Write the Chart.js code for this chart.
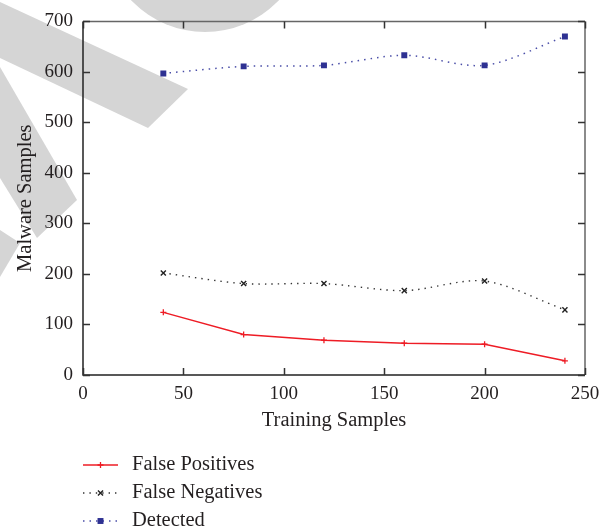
<!DOCTYPE html>
<html>
<head>
<meta charset="utf-8">
<script src="https://cdn.jsdelivr.net/npm/chart.js@4.4.1/dist/chart.umd.min.js"></script>
<style>
  html, body { margin: 0; padding: 0; background: #fff; }
  #wrap { width: 608px; height: 532px; position: relative; }
</style>
</head>
<body>
<div id="wrap"><canvas id="chart"></canvas></div>
<script>
// values
const trainingSamples = [40, 80, 120, 160, 200, 240];
const falsePositives = [124, 80, 69, 63, 61, 28];
const falseNegatives = [202, 181, 181, 167, 186, 129];
const detected = [597, 611, 613, 633, 613, 670];

const seriesNames = ['False Positives', 'False Negatives', 'Detected'];
const xTicks = [0, 50, 100, 150, 200, 250];
const yTicks = [0, 100, 200, 300, 400, 500, 600, 700];

const FONT = '"Liberation Serif", "DejaVu Serif", serif';
const TEXT = '#231f20';

const toPoints = values => values.map((v, i) => ({x: trainingSamples[i], y: v}));

// grey watermark behind the chart
const watermark = {
    id: 'watermark',
    beforeDraw(chart) {
        const ctx = chart.ctx;
        ctx.save();
        ctx.fillStyle = '#d5d5d5';
        const polys = [
            [[0, 2], [188, 89], [148, 128], [0, 58]],
            [[0, 67], [77, 200], [37, 238], [0, 178]],
            [[0, 230], [20, 243], [0, 277]]
        ];
        polys.forEach(p => {
            ctx.beginPath();
            ctx.moveTo(p[0][0], p[0][1]);
            p.slice(1).forEach(q => ctx.lineTo(q[0], q[1]));
            ctx.closePath();
            ctx.fill();
        });
        ctx.beginPath();
        ctx.arc(205, -70, 102, 0, Math.PI * 2);
        ctx.fill();
        ctx.restore();
    }
};

// box frame with inward ticks on all four sides, plus the legend below
const frame = {
    id: 'frame',
    afterDraw(chart) {
        const ctx = chart.ctx;
        const a = chart.chartArea;
        const xs = chart.scales.x, ys = chart.scales.y;
        const len = 7;
        ctx.save();
        ctx.lineWidth = 1.5;
        ctx.strokeStyle = '#666';
        ctx.beginPath();
        ctx.moveTo(a.left, a.top); ctx.lineTo(a.right, a.top);
        ctx.moveTo(a.right, a.top); ctx.lineTo(a.right, a.bottom);
        ctx.stroke();
        ctx.strokeStyle = '#222';
        ctx.beginPath();
        ctx.moveTo(a.left, a.top); ctx.lineTo(a.left, a.bottom); ctx.lineTo(a.right, a.bottom);
        ctx.stroke();

        ctx.strokeStyle = '#333';
        ctx.beginPath();
        xs.ticks.forEach(t => {
            const px = Math.round(xs.getPixelForValue(t.value)) + 0.5;
            ctx.moveTo(px, a.bottom); ctx.lineTo(px, a.bottom - len);
            ctx.moveTo(px, a.top); ctx.lineTo(px, a.top + len);
        });
        ys.ticks.forEach(t => {
            const py = Math.round(ys.getPixelForValue(t.value)) + 0.5;
            ctx.moveTo(a.left, py); ctx.lineTo(a.left + len, py);
            ctx.moveTo(a.right, py); ctx.lineTo(a.right - len, py);
        });
        ctx.stroke();

        // legend
        const x0 = 83, x1 = 118, tx = 132;
        const rows = [465, 493, 521];
        chart.data.datasets.forEach((ds, i) => {
            const y = rows[i];
            ctx.save();
            ctx.strokeStyle = ds.borderColor;
            ctx.lineWidth = ds.borderWidth;
            ctx.setLineDash(ds.borderDash || []);
            ctx.beginPath();
            ctx.moveTo(x0, y); ctx.lineTo(x1, y);
            ctx.stroke();
            ctx.restore();
            ctx.save();
            ctx.strokeStyle = ds.pointBorderColor;
            ctx.fillStyle = ds.backgroundColor;
            ctx.lineWidth = ds.pointBorderWidth;
            Chart.helpers.drawPoint(ctx, {
                pointStyle: ds.pointStyle,
                radius: ds.pointRadius,
                borderWidth: ds.pointBorderWidth,
                rotation: 0
            }, (x0 + x1) / 2, y);
            ctx.restore();
            ctx.fillStyle = TEXT;
            ctx.font = '20.5px ' + FONT;
            ctx.textBaseline = 'middle';
            ctx.fillText(ds.label, tx, y);
        });
        ctx.restore();
    }
};

new Chart(document.getElementById('chart'), {
    type: 'line',
    data: {
        datasets: [
            {
                label: seriesNames[0],
                data: toPoints(falsePositives),
                borderColor: '#ee1c25',
                backgroundColor: '#ee1c25',
                borderWidth: 1.5,
                tension: 0,
                pointStyle: 'cross',
                pointRadius: 3,
                pointBorderWidth: 1.3,
                pointBorderColor: '#ee1c25'
            },
            {
                label: seriesNames[1],
                data: toPoints(falseNegatives),
                borderColor: '#333',
                backgroundColor: '#222',
                borderWidth: 1.4,
                borderDash: [1.4, 5],
                tension: 0.3,
                pointStyle: 'crossRot',
                pointRadius: 3.6,
                pointBorderWidth: 1.4,
                pointBorderColor: '#222'
            },
            {
                label: seriesNames[2],
                data: toPoints(detected),
                borderColor: '#4a4ea8',
                backgroundColor: '#2e3192',
                borderWidth: 1.5,
                borderDash: [1.5, 5],
                tension: 0.3,
                pointStyle: 'rect',
                pointRadius: 4.2,
                pointBorderWidth: 0,
                pointBorderColor: '#2e3192'
            }
        ]
    },
    options: {
        responsive: true,
        maintainAspectRatio: false,
        animation: false,
        layout: { padding: { left: 0, top: 20, right: 23, bottom: 97 } },
        plugins: {
            legend: { display: false },
            tooltip: { enabled: false }
        },
        scales: {
            x: {
                type: 'linear',
                min: 0,
                max: 250,
                afterBuildTicks: s => { s.ticks = xTicks.map(v => ({value: v})); },
                afterFit: s => { s.height = 60; },
                grid: { display: false, drawTicks: false },
                border: { display: false },
                ticks: { padding: 8, color: TEXT, font: { family: FONT, size: 19 } },
                title: {
                    display: true,
                    text: 'Training Samples',
                    color: TEXT,
                    font: { family: FONT, size: 20.5 },
                    padding: { top: 0, bottom: 2 }
                }
            },
            y: {
                min: 0,
                max: 700,
                afterBuildTicks: s => { s.ticks = yTicks.map(v => ({value: v})); },
                afterFit: s => { s.width = 83; },
                grid: { display: false, drawTicks: false },
                border: { display: false },
                ticks: { padding: 10, color: TEXT, font: { family: FONT, size: 19 } },
                title: {
                    display: true,
                    text: 'Malware Samples',
                    color: TEXT,
                    font: { family: FONT, size: 20.5 },
                    padding: { top: 13, bottom: 0 }
                }
            }
        }
    },
    plugins: [watermark, frame]
});
</script>
</body>
</html>
